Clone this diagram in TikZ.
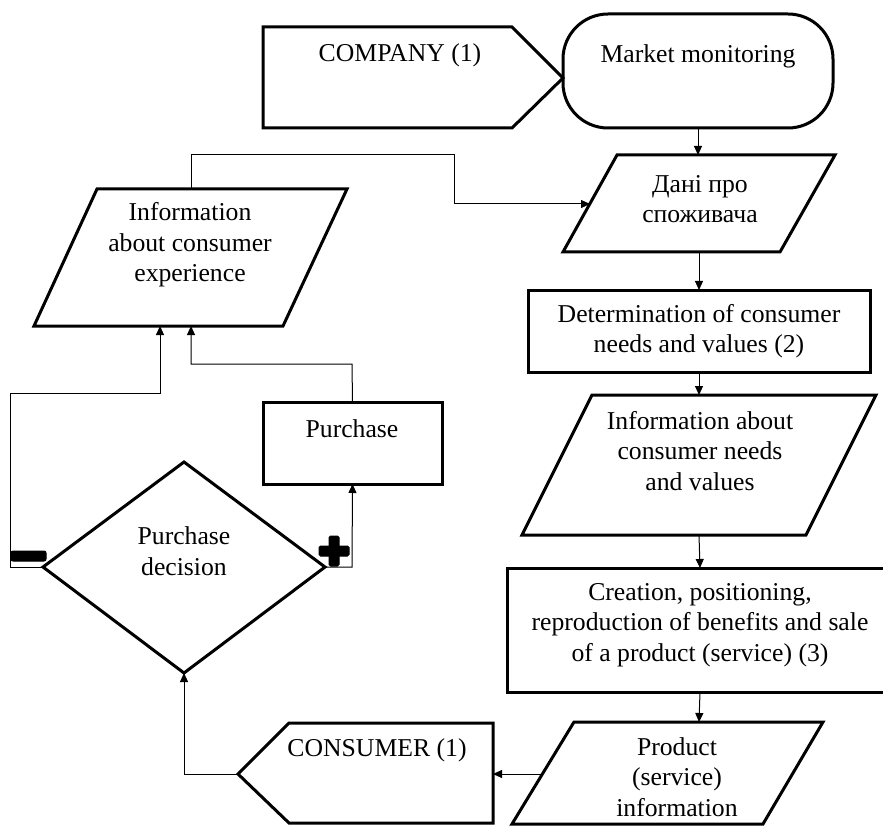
\documentclass[tikz,border=0pt]{standalone}
\usepackage{fontspec}
\setmainfont{Liberation Serif}
\usetikzlibrary{arrows.meta}
\begin{document}
\begin{tikzpicture}[x=1pt,y=-1pt,
  shapeline/.style={line width=3pt, line join=miter},
  conn/.style={line width=1pt, -{Triangle[length=9pt,width=8pt]}},
  plainconn/.style={line width=1pt},
  txt/.style={font=\fontsize{25.7}{30.5}\selectfont, align=center, inner sep=0pt},
  boxnode/.style={draw, line width=3pt, inner sep=0pt, outer sep=0pt},
  signmark/.style={fill=black, draw=black, line width=1pt, rounded corners=2pt},
]
\useasboundingbox (0,0) rectangle (883,826);

% ---------- COMPANY ----------
\draw[shapeline] (263,27) -- (512,27) -- (563,78) -- (512,128) -- (263,128) -- cycle;
\node[txt] (companytext) at (400,55) {COMPANY (1)};

% ---------- Market monitoring ----------
\node[boxnode, rounded corners=45pt, minimum width=270pt, minimum height=114pt] (market) at (698,71) {};
\node[txt] (markettext) at (698,56) {Market monitoring};

% ---------- Dani ----------
\draw[shapeline] (617,155) -- (835,155) -- (780,252) -- (563,252) -- cycle;
\coordinate (daniT) at (698,155);
\coordinate (daniB) at (699,252);
\coordinate (daniL) at (590,204);
\node[txt] (danitext) at (700,199) {Дані про\\споживача};

% ---------- Determination ----------
\node[boxnode, txt, minimum width=342pt, minimum height=82pt] (det) at (699,331)
  {Determination of consumer\\needs and values (2)};

% ---------- Information about needs ----------
\draw[shapeline] (592,395) -- (876,395) -- (806,535) -- (522,535) -- cycle;
\coordinate (needsT) at (699,395);
\coordinate (needsB) at (699,535);
\node[txt] (needstext) at (700,451) {Information about\\consumer needs\\and values};

% ---------- Creation (right side runs off the picture) ----------
\node[minimum width=386pt, minimum height=124pt, inner sep=0pt, outer sep=0pt] (creation) at (700,630) {};
\draw[shapeline] (creation.north east) -- (creation.north west) -- (creation.south west) -- (creation.south east);
\node[txt] (creationtext) at (700,625) {Creation, positioning,\\reproduction of benefits and sale\\of a product (service) (3)};

% ---------- Product information ----------
\draw[shapeline] (574,722) -- (823,722) -- (763,824) -- (512,824) -- cycle;
\coordinate (prodT) at (699,722);
\coordinate (prodL) at (542,774);
\node[txt] (prodtext) at (677,777) {Product\\(service)\\information};

% ---------- CONSUMER ----------
\draw[shapeline] (289,723) -- (493,723) -- (493,823) -- (289,823) -- (238,774) -- cycle;
\coordinate (consR) at (493,774);
\coordinate (consTip) at (238,774);
\node[txt] (constext) at (377,750) {CONSUMER (1)};

% ---------- Purchase decision ----------
\draw[shapeline] (184,462) -- (325,567) -- (184,673) -- (43,567) -- cycle;
\coordinate (decT) at (184,462);
\coordinate (decB) at (184,673);
\coordinate (decL) at (43,567);
\coordinate (decR) at (325,567);
\node[txt] (dectext) at (184,551) {Purchase\\decision};

% ---------- Purchase ----------
\node[boxnode, minimum width=179pt, minimum height=82pt] (purchase) at (352.5,443) {};
\node[txt] (purchasetext) at (352,429) {Purchase};

% ---------- Information about consumer experience ----------
\draw[shapeline] (97,189) -- (347,189) -- (283,326) -- (34,326) -- cycle;
\coordinate (expT) at (191,189);
\coordinate (expB1) at (160,326);
\coordinate (expB2) at (191,326);
\node[txt] (exptext) at (190,245) {Information\\about consumer\\experience};

% ---------- minus / plus signs ----------
\node[signmark, minimum width=35pt, minimum height=10pt, inner sep=0pt] (minus) at (28.5,556) {};
\node[signmark, minimum width=30pt, minimum height=10pt, inner sep=0pt, rounded corners=1.5pt] (plusH) at (334,551) {};
\node[signmark, minimum width=10pt, minimum height=30pt, inner sep=0pt, rounded corners=1.5pt] (plusV) at (334,551) {};

% ---------- connectors ----------
\draw[conn] (market.south) -- (daniT);
\draw[conn] (daniB) -- (det.north);
\draw[conn] (det.south) -- (needsT);
\draw[conn] (needsB) -- (creation.north);
\draw[conn] (creation.south) -- (prodT);
\draw[conn] (prodL) -- (consR);
\draw[conn] (consTip) -- (184,774) -- (decB);
\draw[conn] (decL) -- (10,567) -- (10,393) -- (160,393) -- (expB1);
\draw[conn] (decR) -- (352,567) -- (purchase.south);
\draw[conn] (purchase.north) -- (352,364) -- (191,364) -- (expB2);
\draw[conn] (expT) -- (191,155) -- (454,155) -- (454,204) -- (daniL);
\end{tikzpicture}
\end{document}
